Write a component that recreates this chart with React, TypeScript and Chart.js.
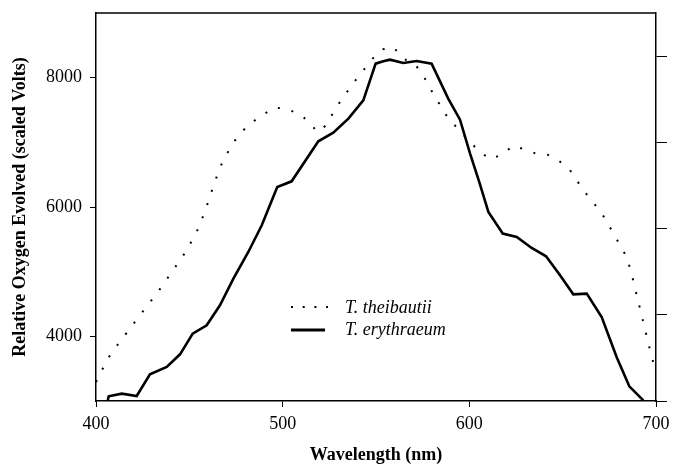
import React, { useEffect, useRef } from "react";
import { Chart, registerables } from "chart.js";

Chart.register(...registerables);

// T. theibautii (dotted)
const theibautiiWavelength = [
  400, 406.3, 411.1, 420, 433.9, 446.4, 453.4, 458.2, 462.3, 466.4, 472.7, 477.1,
  483, 489.3, 495.4, 501.6, 507.5, 513.4, 518.6, 522.7, 530.3, 538.7, 548.2,
  553.6, 559.3, 564.6, 570.5, 574.6, 581.1, 588.6, 599.3, 605, 611.4, 617.7,
  623.6, 629.4, 635.7, 641.8, 647.7, 653.6, 661.4, 670.9, 678, 684.6, 687.8,
  690.7, 694.6, 697.5, 700,
];
const theibautiiValues = [
  3294, 3656, 3850, 4191, 4716, 5233, 5578, 5918, 6269, 6614, 6959, 7135,
  7299, 7422, 7537, 7521, 7453, 7341, 7160, 7252, 7608, 7948, 8295,
  8438, 8474, 8295, 8217, 8072, 7727, 7376, 7042, 6866, 6738, 6815,
  6949, 6892, 6826, 6810, 6722, 6583, 6247, 5907, 5551, 5211, 4862,
  4515, 4052, 3707, 3450,
];

// T. erythraeum (solid)
const erythraeumWavelength = [
  405.5, 406.8, 413.8, 421.8, 428.9, 437.9, 445, 451.8, 459.3, 466.4, 473.6,
  481.6, 488.8, 497.1, 504.8, 519.1, 527.1, 535.2, 543.2, 549.8, 553.9, 557.5,
  564.6, 571.8, 579.8, 588.7, 595, 600.4, 605.3, 610.2, 617.9, 625.4, 633.4,
  641.1, 648.6, 655.7, 662.9, 670.9, 678.9, 685.7, 693.2,
];
const erythraeumValues = [
  2900, 3073, 3114, 3077, 3413, 3526, 3722, 4042, 4171, 4480, 4893,
  5304, 5717, 6309, 6397, 7016, 7150, 7366, 7650, 8217, 8253, 8279,
  8227, 8258, 8217, 7676, 7351, 6826, 6387, 5923, 5589, 5536, 5366,
  5238, 4944, 4650, 4661, 4299, 3680, 3227, 3010,
];

const seriesLabels = ["T. theibautii", "T. erythraeum"];
const xTicks = [400, 500, 600, 700];
const yTicks = [4000, 6000, 8000];
const rightTicks = [0, 1, 2, 3, 4];
const xTitle = "Wavelength (nm)";
const yTitle = "Relative Oxygen Evolved (scaled Volts)";

const SERIF = '"Liberation Serif", "Times New Roman", serif';

const inlineLegend = {
  id: "inlineLegend",
  afterDatasetsDraw(chart: any) {
    const { ctx, chartArea } = chart;
    ctx.save();
    // top frame line
    ctx.strokeStyle = "#000";
    ctx.lineWidth = 1.5;
    ctx.beginPath();
    ctx.moveTo(chartArea.left, chartArea.top);
    ctx.lineTo(chartArea.right, chartArea.top);
    ctx.stroke();

    const sx = chartArea.left + 195;
    const y1 = chartArea.top + 294;
    const y2 = chartArea.top + 317;
    // dotted sample
    ctx.lineWidth = 2;
    ctx.setLineDash([2, 9.7]);
    ctx.beginPath();
    ctx.moveTo(sx, y1);
    ctx.lineTo(sx + 37, y1);
    ctx.stroke();
    // solid sample
    ctx.setLineDash([]);
    ctx.lineWidth = 3;
    ctx.beginPath();
    ctx.moveTo(sx, y2);
    ctx.lineTo(sx + 34, y2);
    ctx.stroke();

    ctx.fillStyle = "#000";
    ctx.font = `italic 18px ${SERIF}`;
    ctx.textBaseline = "middle";
    ctx.textAlign = "left";
    ctx.fillText(chart.data.datasets[0].label, sx + 54, y1 + 1);
    ctx.fillText(chart.data.datasets[1].label, sx + 54, y2);
    ctx.restore();
  },
};

function zeroPad(s: any) {
  s.paddingTop = 0;
  s.paddingBottom = 0;
  s.paddingLeft = 0;
  s.paddingRight = 0;
}

export default function App() {
  const ref = useRef<HTMLCanvasElement | null>(null);

  useEffect(() => {
    document.body.style.margin = "0";
    const canvas = ref.current;
    if (!canvas) return;
    const tickFont = { family: SERIF, size: 18 };
    const titleFont = { family: SERIF, size: 18, weight: "bold" as const };
    const chart = new Chart(canvas, {
      type: "line",
      data: {
        datasets: [
          {
            label: seriesLabels[0],
            data: theibautiiWavelength.map((x, i) => ({ x, y: theibautiiValues[i] })),
            borderColor: "#000",
            borderWidth: 2,
            borderDash: [2, 12],
            pointRadius: 0,
            tension: 0,
            fill: false,
          },
          {
            label: seriesLabels[1],
            data: erythraeumWavelength.map((x, i) => ({ x, y: erythraeumValues[i] })),
            borderColor: "#000",
            borderWidth: 2.6,
            pointRadius: 0,
            tension: 0,
            fill: false,
          },
        ],
      },
      options: {
        responsive: false,
        animation: false,
        layout: { padding: { top: 13, left: 0, right: 0, bottom: 0 } },
        plugins: { legend: { display: false }, tooltip: { enabled: false } },
        scales: {
          x: {
            type: "linear",
            position: "bottom",
            min: 400,
            max: 700,
            afterBuildTicks: (s: any) => {
              s.ticks = xTicks.map((value) => ({ value }));
            },
            ticks: {
              font: tickFont,
              color: "#000",
              padding: 6,
              callback: (v: any) => String(v),
            },
            grid: { drawOnChartArea: false, drawTicks: true, tickLength: 6, color: "#000" },
            border: { display: true, color: "#000", width: 1.5 },
            title: {
              display: true,
              text: xTitle,
              font: titleFont,
              color: "#000",
              padding: { top: 0, bottom: 4 },
            },
            afterFit: (s: any) => {
              s.height = 69;
              zeroPad(s);
            },
          },
          y: {
            type: "linear",
            position: "left",
            min: 3000,
            max: 9000,
            afterBuildTicks: (s: any) => {
              s.ticks = yTicks.map((value) => ({ value }));
            },
            ticks: {
              font: tickFont,
              color: "#000",
              padding: 8,
              callback: (v: any) => String(v),
            },
            grid: { drawOnChartArea: false, drawTicks: true, tickLength: 6, color: "#000" },
            border: { display: true, color: "#000", width: 1.5 },
            title: {
              display: true,
              text: yTitle,
              font: titleFont,
              color: "#000",
              padding: { top: 10, bottom: 0 },
            },
            afterFit: (s: any) => {
              s.width = 96;
              zeroPad(s);
            },
          },
          y2: {
            type: "linear",
            position: "right",
            min: 0,
            max: 4.5,
            afterBuildTicks: (s: any) => {
              s.ticks = rightTicks.map((value) => ({ value }));
            },
            ticks: { display: false },
            grid: { drawOnChartArea: false, drawTicks: true, tickLength: 11, color: "#000" },
            border: { display: true, color: "#000", width: 1.5 },
            afterFit: (s: any) => {
              s.width = 17;
              zeroPad(s);
            },
          },
        },
      },
      plugins: [inlineLegend],
    } as any);
    return () => chart.destroy();
  }, []);

  return (
    <div style={{ width: 673, height: 470 }}>
      <canvas ref={ref} width={673} height={470} />
    </div>
  );
}
